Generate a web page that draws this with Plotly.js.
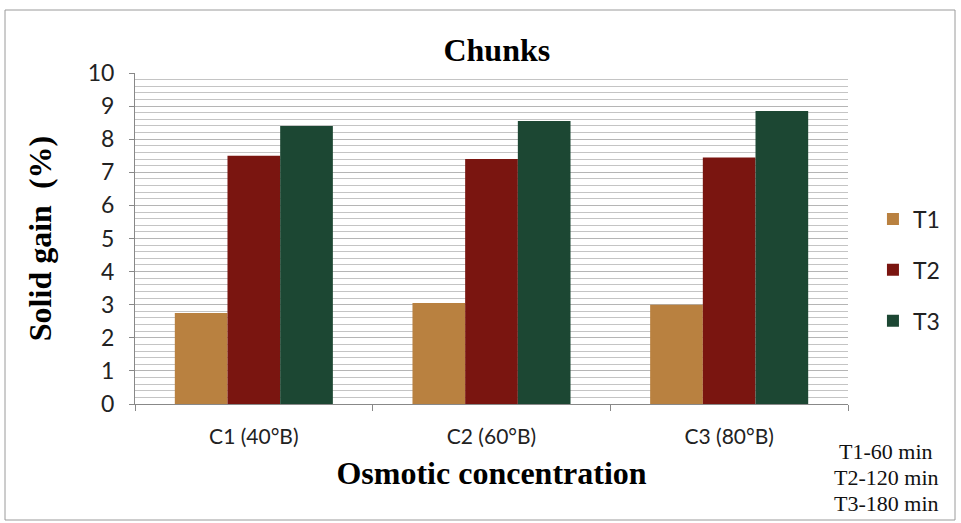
<!DOCTYPE html>
<html>
<head>
<meta charset="utf-8">
<script src="https://cdn.plot.ly/plotly-3.0.1.min.js"></script>
<style>html,body{margin:0;padding:0;background:#fff;}#chart{width:961px;height:523px;}</style>
</head>
<body>
<div id="chart"></div>
<script>
var categories = ["C1 (40°B)", "C2 (60°B)", "C3 (80°B)"];
var seriesNames = ["T1", "T2", "T3"];
var t1Values = [2.75, 3.05, 3.0];
var t2Values = [7.5, 7.4, 7.45];
var t3Values = [8.4, 8.55, 8.85];
var noteLines = ["T1-60 min", "T2-120 min", "T3-180 min"];
var colors = ["#B98140", "#7A1510", "#1C4733"];

var allValues = [t1Values, t2Values, t3Values];
var traces = allValues.map(function (vals, i) {
  return {
    type: "bar",
    name: seriesNames[i],
    x: categories,
    y: vals,
    marker: { color: colors[i], line: { width: 0 } },
    legendgroup: "g" + i,
    hoverinfo: "x+y+name"
  };
});

var serif = "Liberation Serif, Times New Roman, serif";
var sans = "Lato, Open Sans, Liberation Sans, sans-serif";

var layout = {
  width: 961,
  height: 523,
  margin: { l: 135, r: 113, t: 73, b: 119 },
  paper_bgcolor: "#ffffff",
  plot_bgcolor: "#ffffff",
  barmode: "group",
  bargap: 0.335,
  bargroupgap: 0,
  title: {
    text: "<b>Chunks</b>",
    font: { family: serif, size: 32, color: "#000" },
    x: 0.517, xanchor: "center", y: 0.905, yanchor: "middle"
  },
  xaxis: {
    type: "category",
    tickson: "boundaries",
    ticks: "outside",
    ticklen: 6,
    tickcolor: "#888",
    ticklabelstandoff: 14,
    showline: true,
    linecolor: "#888",
    linewidth: 1,
    showgrid: false,
    tickfont: { family: sans, size: 21, color: "#222" },
    title: {
      text: "<b>Osmotic concentration</b>",
      font: { family: serif, size: 32, color: "#000" },
      standoff: 14
    }
  },
  yaxis: {
    range: [0, 10],
    dtick: 1,
    ticks: "outside",
    ticklen: 5,
    tickcolor: "#888",
    ticklabelstandoff: 10,
    showline: true,
    linecolor: "#888",
    linewidth: 1,
    showgrid: true,
    gridcolor: "#b5b5b5",
    gridwidth: 1,
    zeroline: false,
    minor: { dtick: 0.2, showgrid: true, gridcolor: "#c4c4c4", gridwidth: 1 },
    tickfont: { family: sans, size: 23, color: "#222" },
    title: {
      text: "<b>Solid gain  (%)</b>",
      font: { family: serif, size: 32, color: "#000" },
      standoff: 26
    }
  },
  legend: {
    x: 1.035, xanchor: "left",
    y: (404 - 270) / 331, yanchor: "middle",
    font: { family: sans, size: 23, color: "#222" },
    tracegroupgap: 18,
    itemwidth: 30,
    bgcolor: "rgba(0,0,0,0)"
  },
  shapes: [
    { type: "rect", xref: "paper", yref: "paper",
      x0: (5 - 135) / 713, x1: (955 - 135) / 713,
      y0: (404 - 520) / 331, y1: (404 - 10) / 331,
      line: { color: "#9a9a9a", width: 1 }, fillcolor: "rgba(0,0,0,0)", layer: "below" }
  ],
  annotations: noteLines.map(function (t, i) {
    return {
      text: t, xref: "paper", yref: "paper",
      x: (886 - 135) / 713, y: (404 - (451 + i * 26)) / 331,
      xanchor: "center", yanchor: "middle", showarrow: false,
      font: { family: serif, size: 22, color: "#111" }
    };
  })
};

Plotly.newPlot("chart", traces, layout, { displayModeBar: false, staticPlot: true });
</script>
</body>
</html>
